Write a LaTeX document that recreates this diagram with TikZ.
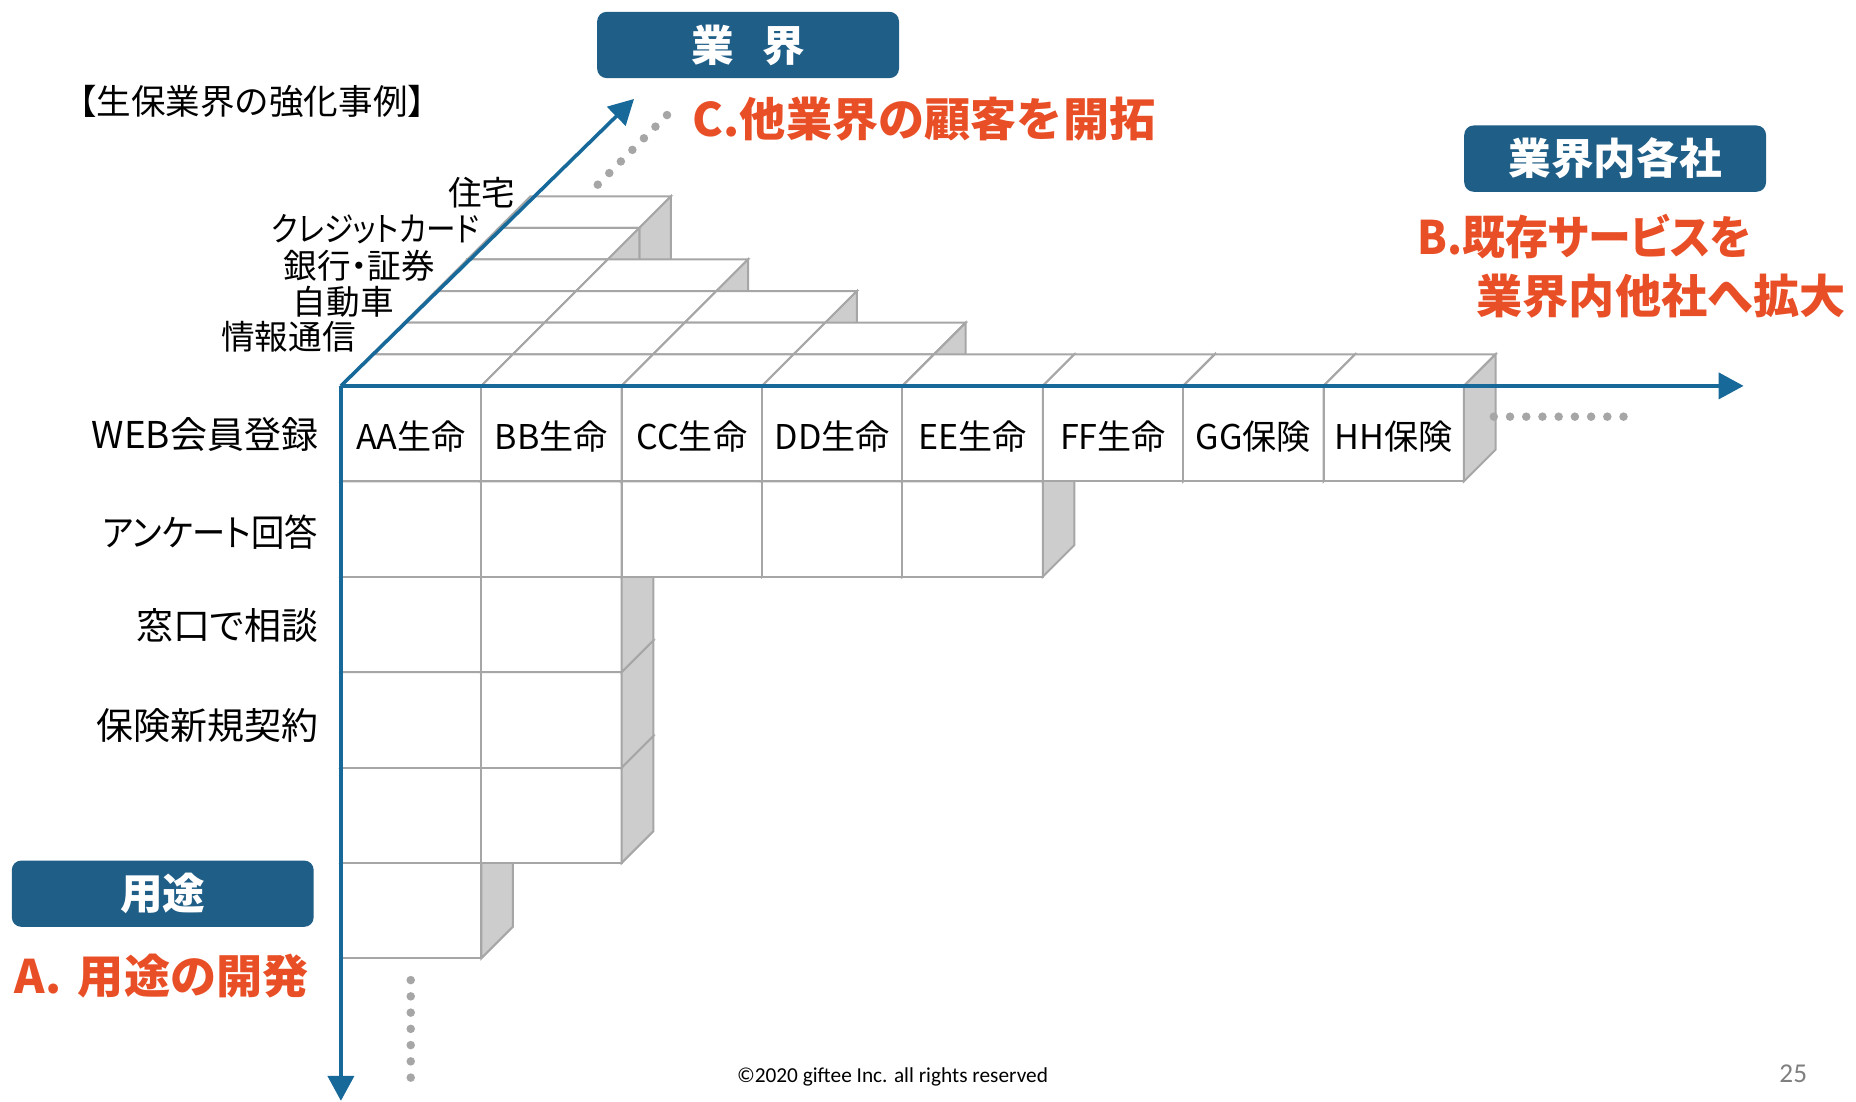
\documentclass[tikz,border=0pt]{standalone}
\usepackage{fontspec}
\newfontfamily\jp{Noto Sans CJK JP}
\newfontfamily\jpp{Noto Sans CJK JP}[RawFeature=+palt]
\newfontfamily\carl{Carlito}
\usetikzlibrary{arrows.meta}
\definecolor{gridgrey}{HTML}{A6A6A6}
\definecolor{sidegrey}{HTML}{CDCDCD}
\definecolor{axisblue}{HTML}{17699A}
\definecolor{boxblue}{HTML}{1F5E87}
\definecolor{accent}{HTML}{E94F27}
\definecolor{pagegrey}{HTML}{7F7F7F}
\tikzset{
  cubeface/.style={fill=white, draw=gridgrey, line width=0.85pt, line join=miter},
  cubeside/.style={fill=sidegrey, draw=gridgrey, line width=0.85pt, line join=miter},
  axisline/.style={draw=axisblue, line width=1.5pt, -{Triangle[length=10.5pt,width=11pt]}},
  dotc/.style={fill=gridgrey},
  headbox/.style={fill=boxblue, rounded corners=4pt, minimum width=127.5pt, minimum height=28pt, inner sep=0pt, text=white, font=\jp\bfseries\fontsize{18pt}{18pt}\selectfont},
  accenttext/.style={text=accent, inner sep=0pt, font=\jp\bfseries\fontsize{19.5pt}{20pt}\selectfont},
  rowlab/.style={anchor=east, inner sep=0pt, font=\jpp\fontsize{15.6pt}{16pt}\selectfont},
  depthlab/.style={anchor=east, inner sep=0pt, font=\jpp\fontsize{14.2pt}{14pt}\selectfont},
  celllab/.style={inner sep=0pt, font=\jpp\fontsize{14.4pt}{14pt}\selectfont},
}
\def\CW{118.6}
\def\CH{80.6}
\def\CD{26.7}
\newcommand\cubeat[3]{%
  \pgfmathsetmacro\cx{288+#1*\CW+#3*\CD}%
  \pgfmathsetmacro\cy{326+#2*\CH-#3*\CD}%
  \filldraw[cubeface] (\cx,\cy) -- ++(\CW,0) -- ++(0,\CH) -- ++(-\CW,0) -- cycle;
  \filldraw[cubeface] (\cx,\cy) -- ++(\CD,-\CD) -- ++(\CW,0) -- ++(-\CD,\CD) -- cycle;
  \filldraw[cubeside] (\cx+\CW,\cy) -- ++(\CD,-\CD) -- ++(0,\CH) -- ++(-\CD,\CD) -- cycle;
}
\begin{document}
\begin{tikzpicture}[x=0.5pt,y=-0.5pt]
\useasboundingbox (0,0) rectangle (1568,930.15);
% ---- cubes: lower rows first ----
\cubeat{0}{5}{0}
\foreach \r in {4,3,2}{\foreach \c in {0,1}{\cubeat{\c}{\r}{0}}}
\foreach \c in {0,...,4}{\cubeat{\c}{1}{0}}
% ---- top row, deep slices first ----
\cubeat{0}{0}{5}
\cubeat{0}{0}{4}
\foreach \c in {0,1}{\cubeat{\c}{0}{3}}
\foreach \c in {0,...,2}{\cubeat{\c}{0}{2}}
\foreach \c in {0,...,3}{\cubeat{\c}{0}{1}}
\foreach \c in {0,...,7}{\cubeat{\c}{0}{0}}
% ---- dotted continuations ----
\foreach \i in {0,...,6}{\fill[dotc] (505+\i*9.75,156-\i*9.8) circle[radius=1.8pt];}
\foreach \i in {0,...,8}{\fill[dotc] (1262+\i*13.7,352) circle[radius=1.8pt];}
\foreach \i in {0,...,6}{\fill[dotc] (347,828+\i*13.73) circle[radius=1.8pt];}
% ---- axes ----
\coordinate (O) at (288,326);
\coordinate (tipX) at (1473,326);
\coordinate (tipY) at (288,930);
\coordinate (tipZ) at (535.6,83.6);
\draw[axisline] (O) -- (tipX);
\draw[axisline] (O) -- (tipY);
\draw[axisline] (O) -- (tipZ);
% ---- cell labels ----
\foreach \t [count=\k from 0] in {AA生命,BB生命,CC生命,DD生命,EE生命,FF生命,GG保険,HH保険}{
  \node[celllab] (cell\k) at (288+\k*\CW+\CW/2,369) {\t};
}
% ---- row labels ----
\node[rowlab] (r0) at (269,367) {WEB会員登録};
\node[rowlab] (r1) at (269,450) {\scalebox{0.9}[1]{アンケート回答}};
\node[rowlab] (r2) at (269,528) {窓口で相談};
\node[rowlab] (r3) at (269,613) {保険新規契約};
% ---- depth labels ----
\node[depthlab] (d5) at (436,163) {住宅};
\node[depthlab] (d4) at (405,194) {\scalebox{0.88}[1]{クレジットカード}};
\node[depthlab] (d3) at (368,224.6) {銀行・証券};
\node[depthlab] (d2) at (333,255) {自動車};
\node[depthlab] (d1) at (301,284.5) {情報通信};
% ---- title ----
\node[inner sep=0pt, font=\jp\fontsize{14.6pt}{15pt}\selectfont] (title) at (213,86) {【生保業界の強化事例】};
% ---- header boxes ----
\node[headbox] (hz) at (632,38) {業\hspace{12pt}界};
\node[headbox] (hx) at (1364.5,134) {業界内各社};
\node[headbox] (hy) at (137.5,755) {用途};
% ---- accent texts ----
\node[accenttext, anchor=west] (tc) at (585,101) {C.他業界の顧客を開拓};
\node[accenttext, anchor=west, font=\jpp\bfseries\fontsize{19.5pt}{20pt}\selectfont] (tb1) at (1197,200) {\scalebox{0.93}[1]{B.既存サービスを}};
\node[accenttext, anchor=west] (tb2) at (1247,250) {業界内他社へ拡大};
\node[accenttext, anchor=west] (ta) at (12,825) {A.\hspace{7pt}用途の開発};
% ---- footer ----
\node[inner sep=0pt, font=\carl\fontsize{9pt}{10pt}\selectfont] (foot) at (754,909.5) {©2020 giftee Inc. all rights reserved};
\node[inner sep=0pt, text=pagegrey, font=\carl\fontsize{11.5pt}{12pt}\selectfont] (pg) at (1515,907.5) {25};
\end{tikzpicture}
\end{document}
